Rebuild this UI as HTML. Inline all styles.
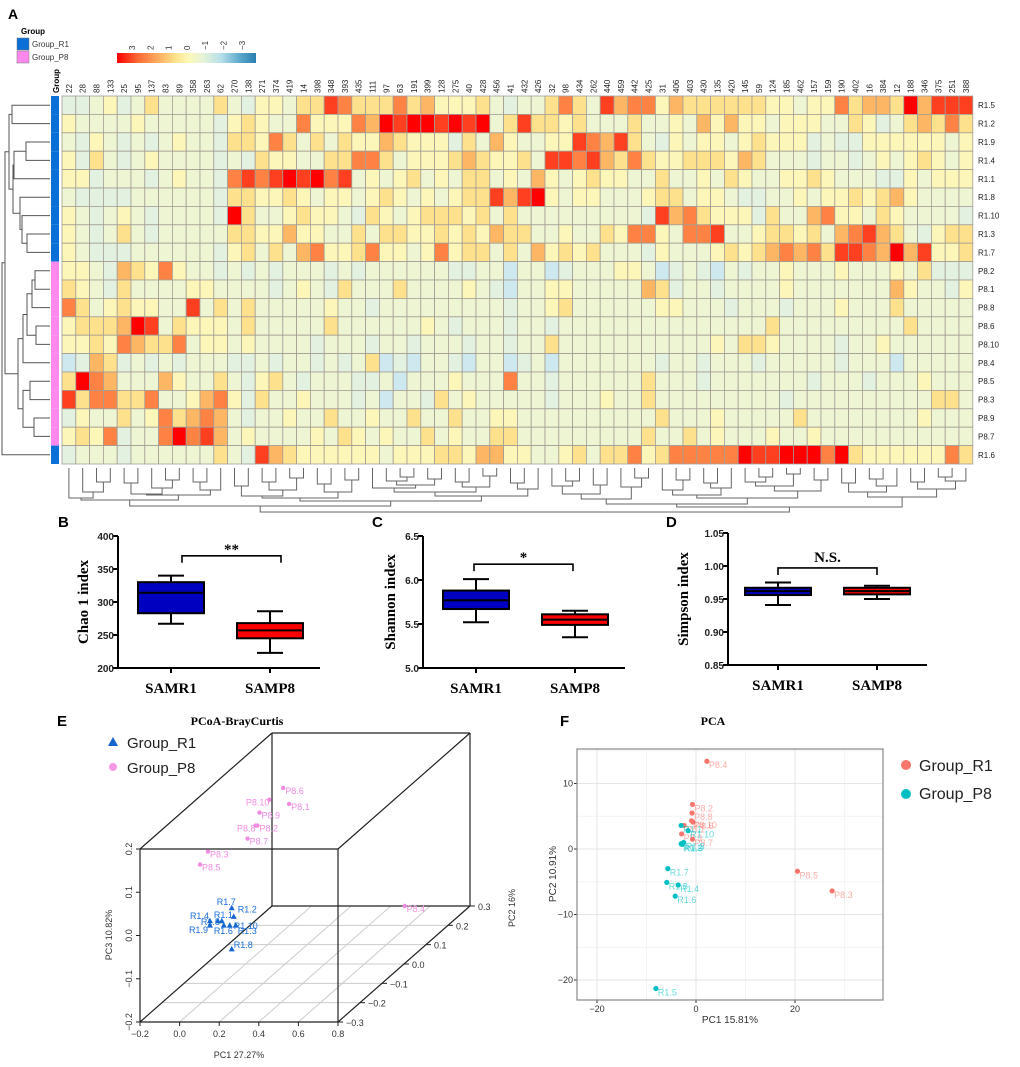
<!DOCTYPE html>
<html><head><meta charset="utf-8"><title>Figure</title>
<style>
html,body{margin:0;padding:0;background:#fff;}
svg{display:block;font-family:"Liberation Sans",Arial,sans-serif;}
.serif{font-family:"Liberation Serif","Times New Roman",serif;}
</style></head>
<body>
<svg id="fig" xmlns="http://www.w3.org/2000/svg" width="1020" height="1067" viewBox="0 0 1020 1067">
<defs>
<linearGradient id="cbar" x1="0" x2="1" y1="0" y2="0">
<stop offset="0" stop-color="#ff0000"/><stop offset="0.15" stop-color="#fd6a35"/><stop offset="0.3" stop-color="#fdae61"/><stop offset="0.42" stop-color="#fee38c"/><stop offset="0.52" stop-color="#fcf8ba"/><stop offset="0.62" stop-color="#e6f3d8"/><stop offset="0.75" stop-color="#b5dfea"/><stop offset="0.88" stop-color="#5ea9cc"/><stop offset="1" stop-color="#2a7fb0"/>
</linearGradient>
</defs>
<g id="panelA">
<text x="8" y="19" font-size="14" font-weight="bold">A</text>
<text x="21" y="34" font-size="8" font-weight="bold">Group</text>
<rect x="17" y="38" width="12" height="12" fill="#0a6fd6" stroke="#777" stroke-width="0.5"/>
<text x="32" y="47" font-size="8" fill="#333">Group_R1</text>
<rect x="17" y="51" width="12" height="12" fill="#ff88ee" stroke="#777" stroke-width="0.5"/>
<text x="32" y="60" font-size="8" fill="#333">Group_P8</text>
<rect x="117" y="53" width="139" height="10" fill="url(#cbar)"/>
<text transform="translate(59,93) rotate(-90)" font-size="8" font-weight="bold">Group</text>
</g>
<g id="heat"></g>
<g id="boxes"></g>
<g id="pcoa"></g>
<g id="pca"></g>
</svg>
<script>
const NS='http://www.w3.org/2000/svg';
function mk(tag, attrs, parent, txt){const e=document.createElementNS(NS,tag);for(const k in attrs)e.setAttribute(k,attrs[k]);if(txt!==undefined)e.textContent=txt;parent.appendChild(e);return e;}

/* ===== Heatmap data ===== */
const colLabels=['22','28','88','133','25','95','137','83','89','358','263','62','270','138','271','374','419','14','398','348','393','435','111','97','63','191','399','128','275','40','428','456','41','432','426','32','98','434','262','440','459','442','425','31','406','403','430','135','420','145','59','124','185','462','157','159','190','402','16','384','12','188','346','375','251','388'];
const rowLabels=['R1.5','R1.2','R1.9','R1.4','R1.1','R1.8','R1.10','R1.3','R1.7','P8.2','P8.1','P8.8','P8.6','P8.10','P8.4','P8.5','P8.3','P8.9','P8.7','R1.6'];
const rowGroups=['R','R','R','R','R','R','R','R','R','P','P','P','P','P','P','P','P','P','P','R'];
const levelVals={a:-1,b:-0.4,c:0,d:0.5,e:1,f:1.6,g:2.2,h:2.8,i:3.3};
const heatRows=[
'b b c d b c e c c c c e c b d d c e e h g e e e g e f d d d e c b c c e g e c h f g g d f e e e e e e d d c d d g e f f e i f h h h',
'd c c c c d c c c c c b d e d c c g d d d g f i h i i h i h i c e h e e d e c c c e c c d c f d f d d c d d d c c e d b c e f e g e',
'c b d c b c b c d c c b e e d g e c e c e d d f e d d d b e c f d c c d d h g f h e c b d c d d c d e d d d b c b b d d d d d d c d',
'd b e c b c d c c c c b c b e d d c c e e g g e c d d d e f e d d e c h h g h f e g e d d e e e d f e c c c b c c b c d c d e d c d',
'd d b c c c b c d c c b g h g h i h i g h c d c d e c d c e e c d c f d c d e d d c c e c c d c e d c c d d e d c c c b b d c d d d',
'c b b b b c c c c c c b e e d d e d c d d c d e d c d c d e e h f h i d c d d c c c d e e c d d c b b c c d c d d e d e f d c c c c',
'd c b c d c b c c c c b i e c c d e d d c b e d c d e e e d e c e c c c c c c c c c b h f g e d d d b e c c f g d d c e d c c c c b',
'd c b c e c b c c c c c e e d d f d d c c e c e e d d e d e d f e e c c d c c e d g g d c g g h c c d e e d e c f g h f e c b d e e',
'd c b b b c c c c c c b d e c e c f g d d e g d d c d g d e e c e c f d e d e c c c b d c c c d e d e f g f g e h h g f i f h d d e',
'd d c b f e d g d c c b c b c b c c c b c b c c c c c c b b c c a c c a b c c c d d c a b c b a c b c c d c c c d c c c d c e b b b',
'e d c b e c c c c d d c c c c b c d c b e c c c e c c c c d c b a c c d d c c c c c f e b c c b c c c c d c c c c c c c f d c c b d',
'g e c d e d d c c h c e c e c c c c c d c c b c c c c c c c c c b c c d e c c c c c c d d c c c b c c c b c c c d c c c e c c c c c',
'd e e e f i h c e d d d c e c c c c c e c c c c c c d c b c c c b c c b c c c c c c c c c c c c c c c e c c c c c c c c c e c c c',
'd d e d g f e e g c d d c d c c c c b c c c b c c b c c c b c c b c c e c c c c c c c c c c c d c e e d c c c c b c c d c c c c c c',
'a b f e b c b c b c c c b b c b c c b c b c e a b a c c b a c c a b c a c c c c c c c b c c b c c c b c c c c c b c c c a c c c c c',
'e i g f c c c f d c c e c b d e c b c c c b b c a c c c d c c c g c c b c c c c c c e c c c b c c c c c c c b c c c b c c c d c c',
'h e g g e e g c c d f g d b e c c d c c c b c a c c b e c d c c c c c b c c c d c c e c c c c c c c c c b c c c c c c c c c c e e',
'b d c c e c d g e f g f c b c c d c c e c c d c c e c c e c c d d c c c c c c c c c c e c c c d c c c c c e c c c c c c c c d c c',
'd e d g b c c g i g h f c d c c c c d c e d c d c c e c d c c e e c c c c c c c c c e c c e c d c c c d c c d c c c c c c c c c c',
'b c c c b c c c c c c e c b h f e d d d d d d c d d d e e d f f d d c c d e c e e g d e g g g g g i h h i i i g i e d d d d d d g e f'
];
const scaleTicks=['3','2','1','0','\u22121','\u22122','\u22123'];
const colGaps=[30,24,14,32,15,26,20,12,27,14,22,38,18,28,14,22,10,30,16,24,12,33,20,13,9,17,11,24,14,19,8,28,15,21,44,18,13,26,17,31,19,10,36,22,12,27,15,20,30,14,9,18,6,23,12,39,15,24,11,18,29,14,21,9,13];
const rowTree=[[[[0,1,12],[[[2,3,26],4,14],[5,[6,[7,8,27],22],20],13],9],[[[[[9,10,35],11,32],[12,13,36],27],14,23],[[15,16,30],[17,18,34],23],18],5],19,2];

const X0=62, CW=13.8, Y0=96, RH=18.4;
const stops=[[3.3,[255,0,0]],[2.6,[253,90,45]],[2.0,[253,150,80]],[1.5,[253,190,105]],[1.0,[254,225,140]],[0.5,[252,246,184]],[0.0,[238,245,210]],[-0.4,[226,241,224]],[-1,[205,233,239]],[-3,[42,127,176]]];
function heatColor(v){
  if(v>=stops[0][0])return 'rgb('+stops[0][1].join(',')+')';
  for(let i=0;i<stops.length-1;i++){const a=stops[i],b=stops[i+1];if(v<=a[0]&&v>=b[0]){const t=(a[0]-v)/(a[0]-b[0]);const c=a[1].map((x,j)=>Math.round(x+(b[1][j]-x)*t));return 'rgb('+c.join(',')+')';}}
  return 'rgb('+stops[stops.length-1][1].join(',')+')';
}
const heat=document.getElementById('heat');
const colX=i=>X0+i*CW;
const rowY=r=>Y0+r*RH;
heatRows.forEach((row,r)=>{
  const vals=row.split(' ');
  for(let c=0;c<colLabels.length;c++){
    const v=levelVals[vals[c]||'c'];
    const e=mk('rect',{x:colX(c).toFixed(2),y:rowY(r).toFixed(2),width:CW.toFixed(2),height:RH.toFixed(2),fill:heatColor(v),stroke:'#a39d94','stroke-width':0.8},heat);
    
    
  }
  const g=mk('rect',{x:51,y:rowY(r).toFixed(2),width:8,height:RH.toFixed(2),fill:rowGroups[r]==='R'?'#0a6fd6':'#ff88ee'},heat);
  
  
  const t=mk('text',{x:978,y:(rowY(r)+RH/2+3).toFixed(2),'font-size':8,fill:'#222'},heat,rowLabels[r]);
  
  
});
colLabels.forEach((lab,c)=>{
  const cx=colX(c)+CW/2+3;
  const t=mk('text',{transform:'translate('+cx.toFixed(2)+',93) rotate(-90)','font-size':8,fill:'#222'},heat,lab);
  
  
});
scaleTicks.forEach((lab,i)=>{
  const x=135+i*18.3;
  const t=mk('text',{transform:'translate('+x.toFixed(1)+',50) rotate(-90)','font-size':8,fill:'#333'},heat,lab);
  
  
});
function drawRowTree(node){
  if(typeof node==='number')return {y:rowY(node)+RH/2,x:50};
  const a=drawRowTree(node[0]),b=drawRowTree(node[1]),x=node[2];
  const p=mk('path',{d:'M'+a.x+','+a.y.toFixed(1)+'H'+x+'V'+b.y.toFixed(1)+'H'+b.x,fill:'none',stroke:'#555','stroke-width':1},heat);
  
  
  return {y:(a.y+b.y)/2,x:x};
}
drawRowTree(rowTree);
const DT=468;
function drawColTree(lo,hi){
  if(lo===hi)return {x:colX(lo)+CW/2,y:DT};
  let k=lo;for(let i=lo;i<hi;i++)if(colGaps[i]>colGaps[k])k=i;
  const a=drawColTree(lo,k),b=drawColTree(k+1,hi),y=DT+colGaps[k];
  const p=mk('path',{d:'M'+a.x.toFixed(1)+','+a.y+'V'+y+'H'+b.x.toFixed(1)+'V'+b.y,fill:'none',stroke:'#666','stroke-width':1},heat);
  
  
  return {x:(a.x+b.x)/2,y:y};
}
drawColTree(0,colLabels.length-1);

/* ===== Box plots ===== */
const boxGroups=['SAMR1','SAMP8'];
const chaoStats=[[267,283,314,330,340],[223,245,257,268,286]];
const shannonStats=[[5.52,5.67,5.77,5.88,6.01],[5.35,5.49,5.55,5.61,5.65]];
const simpsonStats=[[0.941,0.956,0.962,0.967,0.975],[0.950,0.957,0.962,0.967,0.970]];
const chaoTicks=[200,250,300,350,400];
const shannonTicks=[5.0,5.5,6.0,6.5];
const simpsonTicks=[0.85,0.90,0.95,1.00,1.05];
const boxes=document.getElementById('boxes');
function boxPanel(cfg){
  const {letter,lx,ax,ay,atop,aend,vmin,vmax,ticks,dec,stats,centers,title,tx,sig,sigV,sigW}=cfg;
  const yS=v=>ay-(v-vmin)/(vmax-vmin)*(ay-atop);
  let e=mk('text',{x:lx,y:527,'font-size':15,'font-weight':'bold'},boxes,letter);
  
  
  e=mk('path',{d:'M'+ax+','+atop+'V'+ay+'H'+aend,fill:'none',stroke:'#000','stroke-width':2},boxes);
  
  
  ticks.forEach(t=>{
    const y=yS(t);
    let m=mk('line',{x1:ax-5,x2:ax,y1:y,y2:y,stroke:'#000','stroke-width':2},boxes);
    
    
    m=mk('text',{x:ax-4,y:y+4,'font-size':10,'font-weight':'bold','text-anchor':'end',fill:'#222'},boxes,t.toFixed(dec));
    
    
  });
  e=mk('text',{transform:'translate('+tx+','+((ay+atop)/2)+') rotate(-90)','font-size':15,'font-weight':'bold','text-anchor':'middle',class:'serif'},boxes,title);
  
  
  stats.forEach((s,i)=>{
    const cx=centers[i],hw=33,cw=13;
    const fill=i===0?'#0000c0':'#ff0000';
    let m=mk('line',{x1:cx,x2:cx,y1:ay,y2:ay+5,stroke:'#000','stroke-width':2},boxes);
    
    
    m=mk('text',{x:cx,y:ay+25,'font-size':15,'font-weight':'bold','text-anchor':'middle',class:'serif'},boxes,boxGroups[i]);
    
    
    m=mk('path',{d:'M'+cx+','+yS(s[0])+'V'+yS(s[4])+'M'+(cx-cw)+','+yS(s[0])+'H'+(cx+cw)+'M'+(cx-cw)+','+yS(s[4])+'H'+(cx+cw),stroke:'#000','stroke-width':2,fill:'none'},boxes);
    
    
    m=mk('rect',{x:cx-hw,y:yS(s[3]),width:2*hw,height:yS(s[1])-yS(s[3]),fill:fill,stroke:'#000','stroke-width':2},boxes);
    
    
    m=mk('line',{x1:cx-hw,x2:cx+hw,y1:yS(s[2]),y2:yS(s[2]),stroke:'#000','stroke-width':2},boxes);
    
    
  });
  const by=yS(sigV),x1=centers[0]+sigW,x2=centers[1]+sigW;
  e=mk('path',{d:'M'+x1+','+(by+7)+'V'+by+'H'+x2+'V'+(by+7),fill:'none',stroke:'#000','stroke-width':1.6},boxes);
  
  
  e=mk('text',{x:(x1+x2)/2,y:by-(sig==='N.S.'?6:2),'font-size':15,'font-weight':'bold','text-anchor':'middle',class:'serif'},boxes,sig);
  
  
}
boxPanel({letter:'B',lx:58,ax:118,ay:668,atop:536,aend:320,vmin:200,vmax:400,ticks:chaoTicks,dec:0,stats:chaoStats,centers:[171,270],title:'Chao 1 index',tx:88,sig:'**',sigV:370,sigW:11});
boxPanel({letter:'C',lx:372,ax:423,ay:668,atop:536,aend:625,vmin:5.0,vmax:6.5,ticks:shannonTicks,dec:1,stats:shannonStats,centers:[476,575],title:'Shannon index',tx:395,sig:'*',sigV:6.18,sigW:-2});
boxPanel({letter:'D',lx:666,ax:728,ay:665,atop:533,aend:927,vmin:0.85,vmax:1.05,ticks:simpsonTicks,dec:2,stats:simpsonStats,centers:[778,877],title:'Simpson index',tx:688,sig:'N.S.',sigV:0.997,sigW:0});

/* ===== PCoA 3D ===== */
const pcoaNames=['P8.6','P8.10','P8.1','P8.9','P8.8','P8.2','P8.7','P8.3','P8.5','P8.4','R1.7','R1.2','R1.4','R1.1','R1.5','R1.6','R1.10','R1.3','R1.9','R1.8'];
const pcoaPC1=[0.19,0.12,0.22,0.07,0.05,0.06,0.01,-0.19,-0.23,0.47,-0.07,-0.06,-0.18,-0.12,-0.14,-0.11,-0.08,-0.05,-0.18,-0.07];
const pcoaPC2=[0,0,0,0,0,0,0,0,0,0.3,0,0,0,0,0,0,0,0,0,0];
const pcoaPC3=[0.207,0.18,0.17,0.15,0.12,0.12,0.09,0.06,0.03,-0.2,-0.07,-0.09,-0.10,-0.10,-0.10,-0.11,-0.11,-0.11,-0.11,-0.165];
const pc1Ticks=[-0.2,0.0,0.2,0.4,0.6,0.8];
const pc2Ticks=[-0.3,-0.2,-0.1,0.0,0.1,0.2,0.3];
const pc3Ticks=[-0.2,-0.1,0.0,0.1,0.2];
const pcoa=document.getElementById('pcoa');
const FX=140,FY=1022,FW=198,FH=173,DX=132,DY=-116;
function proj(a,b,c){const tb=(b+0.3)/0.6;return [FX+(a+0.2)/1.0*FW+tb*DX, FY-(c+0.2)/0.4*FH+tb*DY];}
const labelStyle={'R1.4':['end',-1,-2],'R1.9':['end',-2,8],'R1.5':['end',2,4],'R1.1':['start',-8,-3],'R1.6':['start',-10,9],'R1.3':['start',2,9],'R1.10':['start',4,4],'R1.2':['start',4,-4],'R1.7':['end',4,-3],'P8.10':['end',0,6],'P8.8':['end',0,6]};
{
  let e=mk('text',{x:57,y:726,'font-size':15,'font-weight':'bold'},pcoa,'E');
  
  
  e=mk('text',{x:237,y:725,'font-size':12,'font-weight':'bold','text-anchor':'middle',class:'serif'},pcoa,'PCoA-BrayCurtis');
  
  
  pc1Ticks.slice(1,-1).forEach(v=>{const p=proj(v,-0.3,-0.2),q=proj(v,0.3,-0.2);
    const l=mk('line',{x1:p[0],y1:p[1],x2:q[0],y2:q[1],stroke:'#ccc','stroke-width':1},pcoa);
    
    });
  pc2Ticks.slice(1,-1).forEach(v=>{const p=proj(-0.2,v,-0.2),q=proj(0.8,v,-0.2);
    const l=mk('line',{x1:p[0],y1:p[1],x2:q[0],y2:q[1],stroke:'#ccc','stroke-width':1},pcoa);
    
    });
  const c=[[-0.2,-0.3,-0.2],[0.8,-0.3,-0.2],[0.8,-0.3,0.2],[-0.2,-0.3,0.2],[-0.2,0.3,-0.2],[0.8,0.3,-0.2],[0.8,0.3,0.2],[-0.2,0.3,0.2]].map(p=>proj(p[0],p[1],p[2]));
  const edges=[[0,1],[1,2],[2,3],[3,0],[4,5],[5,6],[6,7],[7,4],[0,4],[1,5],[2,6],[3,7]];
  edges.forEach(ed=>{const l=mk('line',{x1:c[ed[0]][0],y1:c[ed[0]][1],x2:c[ed[1]][0],y2:c[ed[1]][1],stroke:'#222','stroke-width':1.2},pcoa);
    
    });
  pc1Ticks.forEach(v=>{const p=proj(v,-0.3,-0.2);
    let l=mk('line',{x1:p[0],y1:p[1],x2:p[0],y2:p[1]+4,stroke:'#222'},pcoa);
    
    
    l=mk('text',{x:p[0],y:p[1]+15,'font-size':9,'text-anchor':'middle',fill:'#333'},pcoa,v.toFixed(1).replace('-','\u2212'));
    
    });
  pc3Ticks.forEach(v=>{const p=proj(-0.2,-0.3,v);
    let l=mk('line',{x1:p[0]-4,y1:p[1],x2:p[0],y2:p[1],stroke:'#222'},pcoa);
    
    
    l=mk('text',{transform:'translate('+(p[0]-8)+','+p[1]+') rotate(-90)','font-size':9,'text-anchor':'middle',fill:'#333'},pcoa,v.toFixed(1).replace('-','\u2212'));
    
    });
  pc2Ticks.forEach(v=>{const p=proj(0.8,v,-0.2);
    let l=mk('line',{x1:p[0],y1:p[1],x2:p[0]+5,y2:p[1],stroke:'#222'},pcoa);
    
    
    l=mk('text',{x:p[0]+8,y:p[1]+4,'font-size':9,fill:'#333'},pcoa,v.toFixed(1).replace('-','\u2212'));
    
    });
  e=mk('text',{x:239,y:1058,'font-size':9,'text-anchor':'middle',fill:'#333'},pcoa,'PC1 27.27%');
  
  
  e=mk('text',{transform:'translate(112,935) rotate(-90)','font-size':9,'text-anchor':'middle',fill:'#333'},pcoa,'PC3 10.82%');
  
  
  e=mk('text',{transform:'translate(515,908) rotate(-90)','font-size':9,'text-anchor':'middle',fill:'#333'},pcoa,'PC2 16%');
  
  
  e=mk('path',{d:'M108,746 L113,737 L118,746 Z',fill:'#1565d0'},pcoa);
  
  
  e=mk('text',{x:127,y:748,'font-size':15,fill:'#222'},pcoa,'Group_R1');
  
  
  e=mk('circle',{cx:113,cy:767,r:4,fill:'#f79ae6'},pcoa);
  
  
  e=mk('text',{x:127,y:773,'font-size':15,fill:'#222'},pcoa,'Group_P8');
  
  
  pcoaNames.forEach((n,i)=>{
    const p=proj(pcoaPC1[i],pcoaPC2[i],pcoaPC3[i]);const isP=n[0]==='P';
    let m;
    if(isP){m=mk('circle',{cx:p[0],cy:p[1],r:2.2,fill:'#f28ce0'},pcoa);}
    else{m=mk('path',{d:'M'+(p[0]-3)+','+(p[1]+2.5)+'L'+p[0]+','+(p[1]-3)+'L'+(p[0]+3)+','+(p[1]+2.5)+'Z',fill:'#1565d0'},pcoa);}
    
    
    const ls=labelStyle[n]||['start',2,isP?6:-1];
    const t=mk('text',{x:p[0]+ls[1],y:p[1]+ls[2],'font-size':9,fill:isP?'#f28ce0':'#1a6fd8','text-anchor':ls[0]},pcoa,n);
    
    
  });
}

/* ===== PCA ===== */
const pcaNames=['P8.4','P8.2','P8.8','P8.10','P8.6','P8.1','P8.9','P8.7','P8.5','P8.3','R1.1','R1.10','R1.2','R1.3','R1.9','R1.7','R1.8','R1.4','R1.6','R1.5'];
const pcaPC1=[2.2,-0.7,-0.8,-0.9,-0.6,-2.4,-2.9,-0.7,20.5,27.5,-3.0,-1.6,-3.0,-2.5,-2.8,-5.7,-5.9,-3.6,-4.2,-8.1];
const pcaPC2=[13.4,6.8,5.5,4.3,4.1,3.6,2.3,1.5,-3.4,-6.4,3.6,2.8,0.8,1.0,0.7,-3.0,-5.1,-5.5,-7.2,-21.3];
const pcaXTicks=[-20,0,20];
const pcaYTicks=[-20,-10,0,10];
const pca=document.getElementById('pca');
{
  const L=577,R=883,T=749,B=1000;
  const xS=v=>696+v*4.95, yS=v=>849-v*6.55;
  let e=mk('text',{x:560,y:726,'font-size':15,'font-weight':'bold'},pca,'F');
  
  
  e=mk('text',{x:713,y:725,'font-size':12,'font-weight':'bold','text-anchor':'middle',class:'serif'},pca,'PCA');
  
  
  e=mk('rect',{x:L,y:T,width:R-L,height:B-T,fill:'#fff'},pca);
  
  
  [-10,10,30].forEach(v=>{const l=mk('line',{x1:xS(v),x2:xS(v),y1:T,y2:B,stroke:'#f4f4f4'},pca);
    
    });
  [-15,-5,5,15].forEach(v=>{const l=mk('line',{x1:L,x2:R,y1:yS(v),y2:yS(v),stroke:'#f4f4f4'},pca);
    
    });
  pcaXTicks.forEach(v=>{
    let l=mk('line',{x1:xS(v),x2:xS(v),y1:T,y2:B,stroke:'#e6e6e6'},pca);
    
    
    l=mk('line',{x1:xS(v),x2:xS(v),y1:B,y2:B+3,stroke:'#333'},pca);
    
    
    l=mk('text',{x:xS(v),y:B+12,'font-size':9,'text-anchor':'middle',fill:'#333'},pca,String(v).replace('-','\u2212'));
    
    });
  pcaYTicks.forEach(v=>{
    let l=mk('line',{x1:L,x2:R,y1:yS(v),y2:yS(v),stroke:'#e6e6e6'},pca);
    
    
    l=mk('line',{x1:L-3,x2:L,y1:yS(v),y2:yS(v),stroke:'#333'},pca);
    
    
    l=mk('text',{x:L-4,y:yS(v)+3,'font-size':9,'text-anchor':'end',fill:'#333'},pca,String(v).replace('-','\u2212'));
    
    });
  e=mk('rect',{x:L,y:T,width:R-L,height:B-T,fill:'none',stroke:'#888','stroke-width':1.2},pca);
  
  
  e=mk('text',{x:730,y:1023,'font-size':10,'text-anchor':'middle',fill:'#333'},pca,'PC1 15.81%');
  
  
  e=mk('text',{transform:'translate(556,874) rotate(-90)','font-size':10,'text-anchor':'middle',fill:'#333'},pca,'PC2 10.91%');
  
  
  pcaNames.forEach((n,i)=>{
    const isP=n[0]==='P';const col=isP?'#f8766d':'#00bfc4';
    const x=xS(pcaPC1[i]),y=yS(pcaPC2[i]);
    const c=mk('circle',{cx:x,cy:y,r:2.6,fill:col},pca);
    
    
    const t=mk('text',{x:x+2,y:y+7,'font-size':9,fill:col,'fill-opacity':0.6},pca,n);
    
    
  });
  e=mk('circle',{cx:906,cy:765,r:5,fill:'#f8766d'},pca);
  
  
  e=mk('text',{x:919,y:771,'font-size':16,fill:'#222'},pca,'Group_R1');
  
  
  e=mk('circle',{cx:906,cy:794,r:5,fill:'#00bfc4'},pca);
  
  
  e=mk('text',{x:919,y:799,'font-size':16,fill:'#222'},pca,'Group_P8');
  
  
}
</script>
</body></html>
